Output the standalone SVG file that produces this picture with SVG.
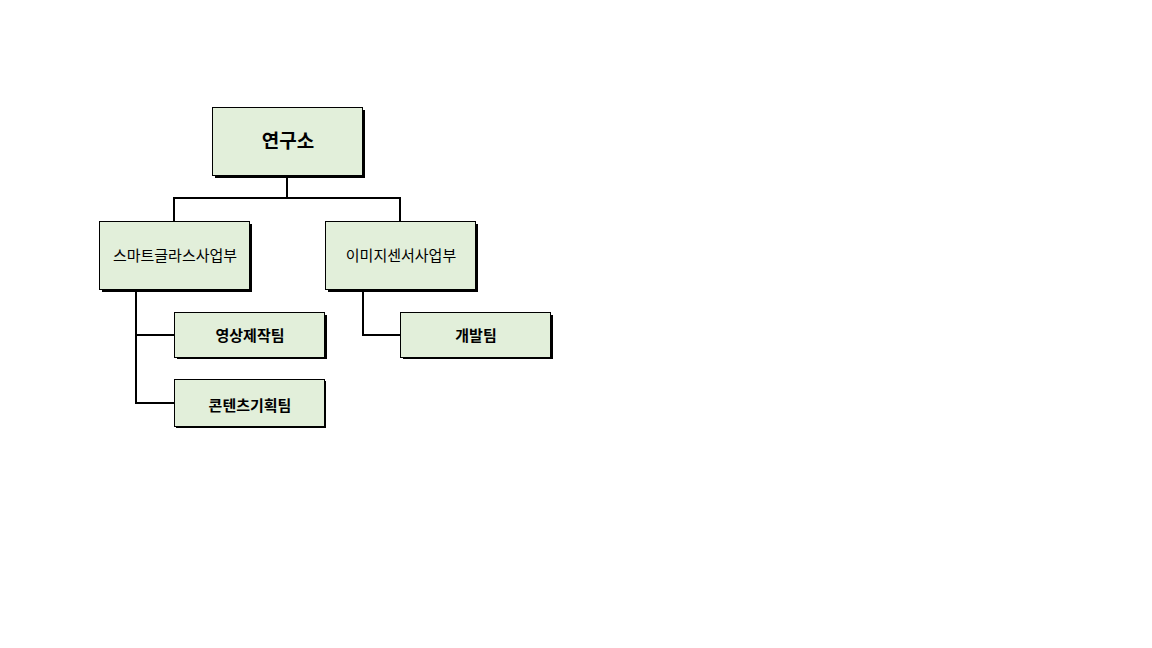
<svg xmlns="http://www.w3.org/2000/svg" width="1152" height="648" viewBox="0 0 1152 648">
<style>
.b{fill:#e2efda;stroke:#000;stroke-width:1}
.s{fill:#000}
.t{font-family:"Noto Sans CJK KR",sans-serif;font-size:15px;text-anchor:middle;dominant-baseline:central;fill:#000}
.c{fill:none;stroke:#000;stroke-width:2}
</style>
<rect width="1152" height="648" fill="#fff"/>
<g id="connectors">
<path class="c" d="M287 175V198M174 221V198H400V221"/>
<path class="c" d="M136 289V403H174M136 335H174"/>
<path class="c" d="M363 289V335H400"/>
</g>
<g id="n1"><rect class="s" x="215" y="110" width="150" height="68"/><rect class="b" x="212.5" y="107.5" width="150" height="68"/><text class="t" x="288" y="139" style="font-size:19px;font-weight:bold">연구소</text></g>
<g id="n2"><rect class="s" x="102" y="224" width="150" height="68"/><rect class="b" x="99.5" y="221.5" width="150" height="68"/><text class="t" x="175" y="254">스마트글라스사업부</text></g>
<g id="n3"><rect class="s" x="328" y="224" width="150" height="68"/><rect class="b" x="325.5" y="221.5" width="150" height="68"/><text class="t" x="401" y="254">이미지센서사업부</text></g>
<g id="n4"><rect class="s" x="177" y="315" width="150" height="44"/><rect class="b" x="174.5" y="312.5" width="150" height="45"/><text class="t" x="250" y="334" style="font-weight:bold">영상제작팀</text></g>
<g id="n5"><rect class="s" x="403" y="315" width="150" height="44"/><rect class="b" x="400.5" y="312.5" width="150" height="45"/><text class="t" x="476" y="334" style="font-weight:bold">개발팀</text></g>
<g id="n6"><rect class="s" x="176" y="381" width="150" height="47"/><rect class="b" x="174.5" y="379.5" width="150" height="47"/><text class="t" x="250" y="404" style="font-weight:bold">콘텐츠기획팀</text></g>
</svg>
